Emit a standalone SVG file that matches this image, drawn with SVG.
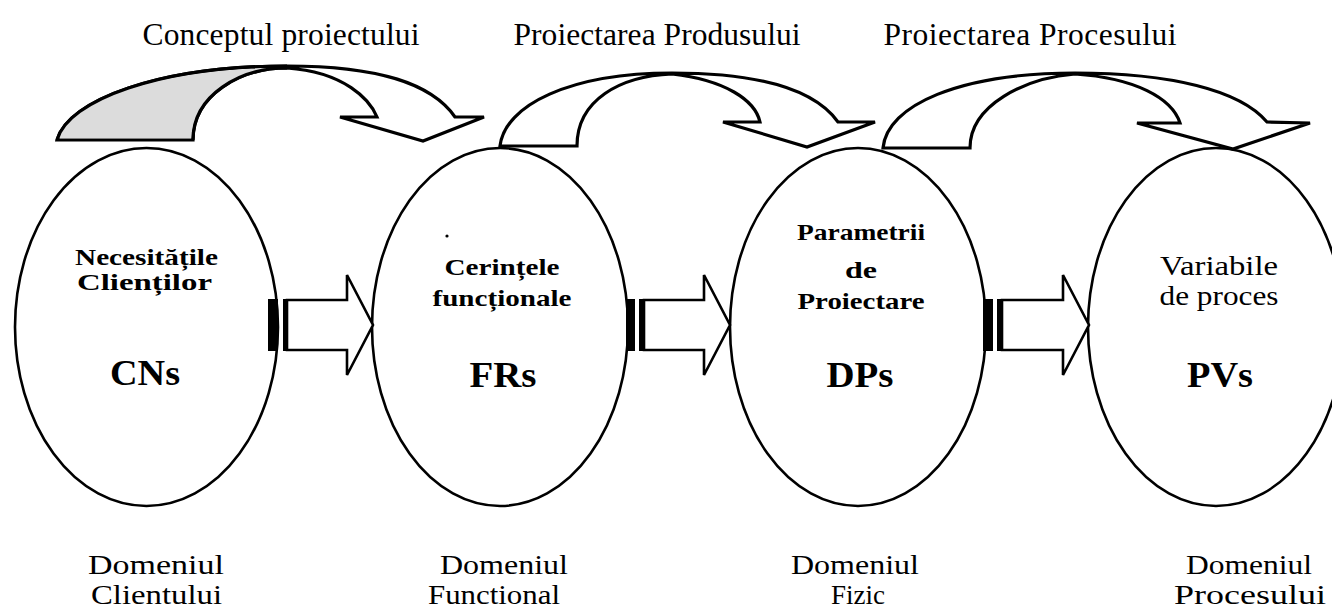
<svg xmlns="http://www.w3.org/2000/svg" width="1332" height="611" viewBox="0 0 1332 611">
  <style>
    .oval { fill: #ffffff; stroke: #000000; stroke-width: 2.6; }
    .curve { fill: #ffffff; stroke: #000000; stroke-width: 3.2; stroke-linejoin: miter; }
    .shade { fill: #dcdcdc; stroke: none; }
    .block { fill: #ffffff; stroke: #000000; stroke-width: 2.6; stroke-linejoin: miter; }
    .stripe { fill: #000000; }
    .lbl { font-family: "Liberation Serif", "Times New Roman", serif; font-size: 31.5px; fill: #000000; text-anchor: middle; }
    .dom { font-family: "Liberation Serif", "Times New Roman", serif; font-size: 27px; fill: #000000; text-anchor: middle; }
    .nt { font-family: "Liberation Serif", "Times New Roman", serif; font-size: 24px; font-weight: bold; fill: #000000; text-anchor: middle; }
    .nr { font-family: "Liberation Serif", "Times New Roman", serif; font-size: 27px; fill: #000000; text-anchor: middle; }
    .big { font-family: "Liberation Serif", "Times New Roman", serif; font-size: 35px; font-weight: bold; fill: #000000; text-anchor: middle; }
  </style>
  <rect width="1332" height="611" fill="#ffffff"/>

  <!-- stage headings -->
  <text class="lbl" x="281" y="45" textLength="277">Conceptul proiectului</text>
  <text class="lbl" x="657" y="45" textLength="287">Proiectarea Produsului</text>
  <text class="lbl" x="1030" y="45" textLength="293">Proiectarea Procesului</text>

  <!-- domains -->
  <g id="node-cns">
    <ellipse class="oval" cx="146.5" cy="327" rx="131.5" ry="179"/>
    <text class="nt" x="146.5" y="265" textLength="143" lengthAdjust="spacingAndGlyphs">Necesitățile</text>
    <text class="nt" x="144.5" y="290" textLength="135" lengthAdjust="spacingAndGlyphs">Clienților</text>
    <text class="big" x="145" y="385" textLength="70" lengthAdjust="spacingAndGlyphs">CNs</text>
    <text class="dom" x="156" y="574" textLength="136" lengthAdjust="spacingAndGlyphs">Domeniul</text>
    <text class="dom" x="156.5" y="604" textLength="131" lengthAdjust="spacingAndGlyphs">Clientului</text>
  </g>
  <g id="node-frs">
    <ellipse class="oval" cx="500" cy="327" rx="128" ry="179"/>
    <circle cx="447" cy="236" r="1.6" fill="#000000"/>
    <text class="nt" x="502" y="275" textLength="115" lengthAdjust="spacingAndGlyphs">Cerințele</text>
    <text class="nt" x="502" y="306" textLength="139" lengthAdjust="spacingAndGlyphs">funcționale</text>
    <text class="big" x="503" y="387" textLength="67" lengthAdjust="spacingAndGlyphs">FRs</text>
    <text class="dom" x="504" y="574" textLength="128" lengthAdjust="spacingAndGlyphs">Domeniul</text>
    <text class="dom" x="494" y="604" textLength="132" lengthAdjust="spacingAndGlyphs">Functional</text>
  </g>
  <g id="node-dps">
    <ellipse class="oval" cx="858" cy="327" rx="128" ry="179"/>
    <text class="nt" x="861" y="240" textLength="128" lengthAdjust="spacingAndGlyphs">Parametrii</text>
    <text class="nt" x="861" y="278" textLength="32" lengthAdjust="spacingAndGlyphs">de</text>
    <text class="nt" x="861" y="309" textLength="127" lengthAdjust="spacingAndGlyphs">Proiectare</text>
    <text class="big" x="860" y="387" textLength="67" lengthAdjust="spacingAndGlyphs">DPs</text>
    <text class="dom" x="855" y="574" textLength="128" lengthAdjust="spacingAndGlyphs">Domeniul</text>
    <text class="dom" x="858" y="604" textLength="54" lengthAdjust="spacingAndGlyphs">Fizic</text>
  </g>
  <g id="node-pvs">
    <ellipse class="oval" cx="1216" cy="327" rx="128" ry="179"/>
    <text class="nr" x="1219" y="275" textLength="118" lengthAdjust="spacingAndGlyphs">Variabile</text>
    <text class="nr" x="1219" y="305" textLength="119" lengthAdjust="spacingAndGlyphs">de proces</text>
    <text class="big" x="1220" y="387" textLength="66" lengthAdjust="spacingAndGlyphs">PVs</text>
    <text class="dom" x="1249" y="574" textLength="126" lengthAdjust="spacingAndGlyphs">Domeniul</text>
    <text class="dom" x="1250" y="604" textLength="152" lengthAdjust="spacingAndGlyphs">Procesului</text>
  </g>

  <g id="connectors">
    <!-- curved stage arrows -->
    <path class="curve" d="M57,140 C68,100 160,66 287,66 C380,66 432,84 455,117 L484,117 L423,141 L340,117 L377,117 C370,100 345,72 287,68 C240,68 193,95 193,140 Z"/>
    <path class="shade" d="M59,138 C70,100 160,68 285,68 C240,70 195,95 191,138 Z"/>
    <path fill="none" stroke="#000000" stroke-width="3.2" d="M57,140 C68,100 160,66 287,66 M287,68 C240,68 193,95 193,140"/>

    <path class="curve" d="M500,146 C505,105 570,73 672,73 C760,73 815,90 838,122 L875,122 L807,147 L723,122 L760,122 C755,100 725,80 672,74 C620,76 577,100 577,146 Z"/>

    <path class="curve" d="M883,148 C887,105 960,73 1075,73 C1170,73 1240,90 1267,122 L1310,123 L1233,149 L1137,123 L1180,123 C1172,98 1135,78 1075,74 C1025,78 970,105 970,148 Z"/>

    <!-- striped block arrows between domains -->
    <rect class="stripe" x="268" y="299" width="10" height="52"/>
    <rect class="stripe" x="283" y="299" width="4" height="52"/>
    <path class="block" d="M287,300 L347,300 L347,275 L373,325 L347,375 L347,350 L287,350 Z"/>

    <rect class="stripe" x="626" y="299" width="9" height="52"/>
    <rect class="stripe" x="639" y="299" width="5" height="52"/>
    <path class="block" d="M644,300 L704,300 L704,275 L730,325 L704,375 L704,350 L644,350 Z"/>

    <rect class="stripe" x="983" y="299" width="10" height="52"/>
    <rect class="stripe" x="997" y="299" width="5" height="52"/>
    <path class="block" d="M1002,300 L1063,300 L1063,275 L1089,325 L1063,375 L1063,350 L1002,350 Z"/>
  </g>
</svg>
